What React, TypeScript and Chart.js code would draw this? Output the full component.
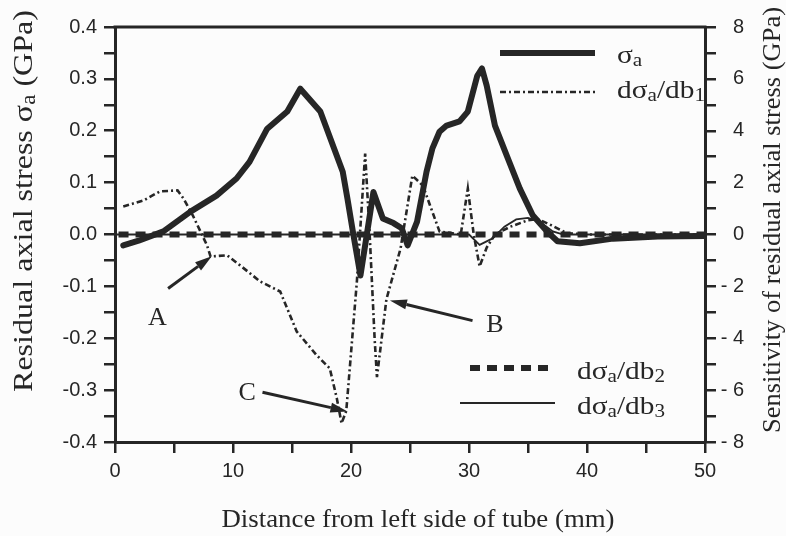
import React, { useEffect, useRef } from "react";
import { Chart, registerables } from "chart.js";

Chart.register(...registerables);

const INK = "#262626";
const SERIF = '"Liberation Serif"';
const SANS = '"Liberation Sans"';

// Distance from left side of tube (mm) vs residual axial stress σa (GPa, left axis)
const sigmaX = [0.7, 2.0, 4.1, 6.4, 8.6, 10.3, 11.4, 12.9, 14.6, 15.7, 17.4, 19.3, 19.7, 20.2, 20.8, 21.9, 22.7, 23.6, 24.3, 24.8, 25.6, 26.4, 26.9, 27.5, 28.1, 29.2, 29.9, 30.7, 31.1, 31.5, 32.2, 33.2, 34.3, 35.4, 36.6, 37.5, 39.4, 42.2, 46.0, 50.0];
const sigmaY = [-0.021, -0.012, 0.006, 0.044, 0.075, 0.108, 0.14, 0.204, 0.237, 0.281, 0.237, 0.121, 0.069, 0.0, -0.079, 0.082, 0.031, 0.022, 0.012, -0.021, 0.025, 0.121, 0.166, 0.198, 0.21, 0.218, 0.237, 0.306, 0.32, 0.287, 0.21, 0.152, 0.089, 0.037, 0.006, -0.013, -0.017, -0.008, -0.004, -0.003];

// Sensitivities of σa (GPa, right axis)
const db1X = [0.7, 2.4, 3.8, 5.3, 5.8, 6.6, 7.8, 8.1, 9.5, 10.6, 12.3, 14.0, 15.4, 17.1, 18.2, 18.8, 19.2, 19.6, 20.5, 21.2, 21.6, 22.0, 22.2, 23.0, 24.2, 25.2, 26.1, 26.7, 27.5, 29.3, 29.9, 30.4, 30.9, 31.5, 32.2, 33.5, 35.0, 35.8, 37.0, 38.3, 40.0, 45.0, 50.0];
const db1Y = [1.08, 1.31, 1.66, 1.7, 1.39, 0.73, -0.42, -0.85, -0.8, -1.19, -1.81, -2.2, -3.74, -4.66, -5.16, -6.32, -7.28, -6.8, -1.8, 3.12, -0.16, -4.0, -5.5, -2.5, -0.54, 2.27, 1.88, 1.12, 0.12, 0.0, 1.77, 0.0, -1.23, -0.5, 0.0, 0.3, 0.55, 0.6, 0.35, 0.05, 0.0, 0.0, 0.0];

const db2X = [0.3, 10, 20, 30, 40, 50];
const db2Y = [0, 0, 0, 0, 0, 0];

const db3X = [0, 10, 20, 25, 30, 30.9, 32.0, 33.0, 34.0, 35.0, 36.0, 37.1, 38.0, 40, 50];
const db3Y = [0, 0, 0, 0, 0, -0.4, -0.15, 0.3, 0.58, 0.64, 0.5, 0.12, 0.0, 0, 0];

// Tick labels
const xTickLabels = ["0", "10", "20", "30", "40", "50"];
const leftTickLabels = ["-0.4", "-0.3", "-0.2", "-0.1", "0.0", "0.1", "0.2", "0.3", "0.4"];
const rightTickLabels = ["- 8", "- 6", "- 4", "- 2", "0", "2", "4", "6", "8"];

type Part = { t: string; sub?: boolean };

const SUB = 0.72;

const pts = (xs: number[], ys: number[]) => xs.map((x, i) => ({ x, y: ys[i] }));

function partsWidth(ctx: CanvasRenderingContext2D, parts: Part[], size: number) {
  let w = 0;
  for (const p of parts) {
    ctx.font = `${p.sub ? size * SUB : size}px ${SERIF}, serif`;
    w += ctx.measureText(p.t).width;
  }
  return w;
}

function drawRich(
  ctx: CanvasRenderingContext2D,
  parts: Part[],
  x: number,
  y: number,
  size: number,
  opts: { align?: "left" | "center"; rotate?: number; stretch?: number; length?: number } = {}
) {
  ctx.save();
  ctx.translate(x, y);
  if (opts.rotate) ctx.rotate(opts.rotate);
  const w = partsWidth(ctx, parts, size);
  const sx = opts.length ? opts.length / w : opts.stretch || 1;
  ctx.scale(sx, 1);
  let cx = opts.align === "center" ? -w / 2 : 0;
  ctx.fillStyle = INK;
  ctx.textBaseline = "alphabetic";
  ctx.textAlign = "left";
  for (const p of parts) {
    ctx.font = `${p.sub ? size * SUB : size}px ${SERIF}, serif`;
    ctx.fillText(p.t, cx, p.sub ? size * 0.1 : 0);
    cx += ctx.measureText(p.t).width;
  }
  ctx.restore();
}

const sigmaParts: Part[] = [{ t: "σ" }, { t: "a", sub: true }];
const dParts = (n: string): Part[] => [{ t: "dσ" }, { t: "a", sub: true }, { t: "/db" }, { t: n, sub: true }];

const legendItems = [
  { ds: 0, x0: 500, x1: 595, y: 53, tx: 617, ty: 63, parts: sigmaParts },
  { ds: 1, x0: 500, x1: 595, y: 92, tx: 617, ty: 98, parts: dParts("1") },
  { ds: 2, x0: 470, x1: 555, y: 368, tx: 577, ty: 379, parts: dParts("2") },
  { ds: 3, x0: 460, x1: 555, y: 403, tx: 577, ty: 414, parts: dParts("3") },
];

// Callouts in data coordinates (mm, GPa on left axis)
const notes = [
  { label: "A", lx: 3.6, ly: -0.162, fx: 4.5, fy: -0.104, tx: 8.2, ty: -0.042 },
  { label: "B", lx: 32.2, ly: -0.175, fx: 30.3, fy: -0.166, tx: 23.3, ty: -0.127 },
  { label: "C", lx: 11.2, ly: -0.306, fx: 12.5, fy: -0.304, tx: 19.7, ty: -0.341 },
];

function arrow(ctx: CanvasRenderingContext2D, x0: number, y0: number, x1: number, y1: number) {
  const ang = Math.atan2(y1 - y0, x1 - x0);
  const hl = 17;
  const hw = 5;
  const bx = x1 - hl * Math.cos(ang);
  const by = y1 - hl * Math.sin(ang);
  ctx.beginPath();
  ctx.moveTo(x0, y0);
  ctx.lineTo(bx, by);
  ctx.lineWidth = 3;
  ctx.stroke();
  ctx.beginPath();
  ctx.moveTo(x1, y1);
  ctx.lineTo(bx + hw * Math.sin(ang), by - hw * Math.cos(ang));
  ctx.lineTo(bx - hw * Math.sin(ang), by + hw * Math.cos(ang));
  ctx.closePath();
  ctx.fill();
}

const decor = {
  id: "decor",
  beforeDraw(chart: any) {
    const { ctx, width, height } = chart;
    ctx.save();
    ctx.fillStyle = "#fcfcfc";
    ctx.fillRect(0, 0, width, height);
    ctx.restore();
  },
  afterDraw(chart: any) {
    const { ctx, chartArea: a, scales } = chart;
    const sx = scales.x;
    const sy = scales.y;
    ctx.save();
    ctx.strokeStyle = INK;
    ctx.fillStyle = INK;
    ctx.lineWidth = 3;
    ctx.beginPath();
    ctx.moveTo(a.left - 1.5, a.top);
    ctx.lineTo(a.right + 1.5, a.top);
    ctx.stroke();

    // legend
    for (const it of legendItems) {
      const ds = chart.data.datasets[it.ds];
      ctx.save();
      ctx.strokeStyle = ds.borderColor;
      ctx.lineWidth = ds.borderWidth;
      ctx.setLineDash(ds.borderDash || []);
      ctx.beginPath();
      ctx.moveTo(it.x0, it.y);
      ctx.lineTo(it.x1, it.y);
      ctx.stroke();
      ctx.restore();
      drawRich(ctx, it.parts, it.tx, it.ty, 26, { stretch: 1.13 });
    }

    // callouts
    for (const n of notes) {
      arrow(ctx, sx.getPixelForValue(n.fx), sy.getPixelForValue(n.fy), sx.getPixelForValue(n.tx), sy.getPixelForValue(n.ty));
      ctx.font = `26px ${SERIF}, serif`;
      ctx.textAlign = "center";
      ctx.textBaseline = "middle";
      ctx.fillText(n.label, sx.getPixelForValue(n.lx), sy.getPixelForValue(n.ly));
    }

    // axis titles
    drawRich(ctx, [{ t: "Distance from left side of tube (mm)" }], (a.left + a.right) / 2 + 8, 527, 25, {
      align: "center",
      length: 393,
    });
    drawRich(
      ctx,
      [{ t: "Residual axial stress σ" }, { t: "a", sub: true }, { t: " (GPa)" }],
      32,
      201,
      28,
      { align: "center", rotate: -Math.PI / 2, length: 382 }
    );
    drawRich(ctx, [{ t: "Sensitivity of residual axial stress (GPa)" }], 780, 220, 26, {
      align: "center",
      rotate: -Math.PI / 2,
      length: 426,
    });
    ctx.restore();
  },
};

export default function App() {
  const ref = useRef<HTMLCanvasElement | null>(null);

  useEffect(() => {
    if (!ref.current) return;
    const tickFont = { family: `${SANS}, Arial, sans-serif`, size: 20 };
    const axisCommon = {
      border: { display: true, color: INK, width: 3 },
      grid: { drawOnChartArea: false, drawTicks: true, tickLength: 11, color: INK, lineWidth: 2.5 },
    };
    const chart = new Chart(ref.current, {
      type: "line",
      data: {
        datasets: [
          {
            label: "σa",
            data: pts(sigmaX, sigmaY),
            yAxisID: "y",
            borderColor: INK,
            borderWidth: 6,
            borderJoinStyle: "round",
            borderCapStyle: "round",
            pointRadius: 0,
            tension: 0,
          },
          {
            label: "dσa/db1",
            data: pts(db1X, db1Y),
            yAxisID: "y2",
            borderColor: INK,
            borderWidth: 2.6,
            borderDash: [6, 3, 2, 3],
            pointRadius: 0,
            tension: 0,
          },
          {
            label: "dσa/db2",
            data: pts(db2X, db2Y),
            yAxisID: "y2",
            borderColor: INK,
            borderWidth: 6,
            borderDash: [10, 7],
            pointRadius: 0,
            tension: 0,
          },
          {
            label: "dσa/db3",
            data: pts(db3X, db3Y),
            yAxisID: "y2",
            borderColor: INK,
            borderWidth: 1.8,
            pointRadius: 0,
            tension: 0,
          },
        ],
      },
      options: {
        animation: false,
        responsive: false,
        events: [],
        layout: { padding: { top: 27, right: 42, left: 0, bottom: 0 } },
        plugins: { legend: { display: false }, tooltip: { enabled: false } },
        scales: {
          x: {
            type: "linear",
            position: "bottom",
            min: 0,
            max: 50,
            ...axisCommon,
            ticks: {
              stepSize: 5,
              autoSkip: false,
              maxRotation: 0,
              padding: 6,
              color: INK,
              font: tickFont,
              callback: (v: any) => {
                const n = Math.round(Number(v));
                return n % 10 === 0 ? xTickLabels[n / 10] : "";
              },
            },
            afterFit: (s: any) => {
              s.height = 94;
            },
          },
          y: {
            type: "linear",
            position: "left",
            min: -0.4,
            max: 0.4,
            ...axisCommon,
            ticks: {
              stepSize: 0.05,
              autoSkip: false,
              padding: 7,
              color: INK,
              font: tickFont,
              callback: (v: any) => {
                const n = Math.round(Number(v) * 20);
                return n % 2 === 0 ? leftTickLabels[n / 2 + 4] : "";
              },
            },
            afterFit: (s: any) => {
              s.width = 115;
            },
          },
          y2: {
            type: "linear",
            position: "right",
            min: -8,
            max: 8,
            ...axisCommon,
            ticks: {
              stepSize: 1,
              autoSkip: false,
              crossAlign: "far",
              color: INK,
              font: tickFont,
              callback: (v: any) => {
                const n = Math.round(Number(v));
                return n % 2 === 0 ? rightTickLabels[n / 2 + 4] : "";
              },
            },
            afterFit: (s: any) => {
              s.width = 39;
            },
          },
        },
      },
      plugins: [decor],
    } as any);
    return () => chart.destroy();
  }, []);

  return (
    <div style={{ position: "fixed", left: 0, top: 0, width: 786, height: 536, background: "#fcfcfc" }}>
      <canvas ref={ref} width={786} height={536} style={{ width: 786, height: 536, display: "block" }} />
    </div>
  );
}
